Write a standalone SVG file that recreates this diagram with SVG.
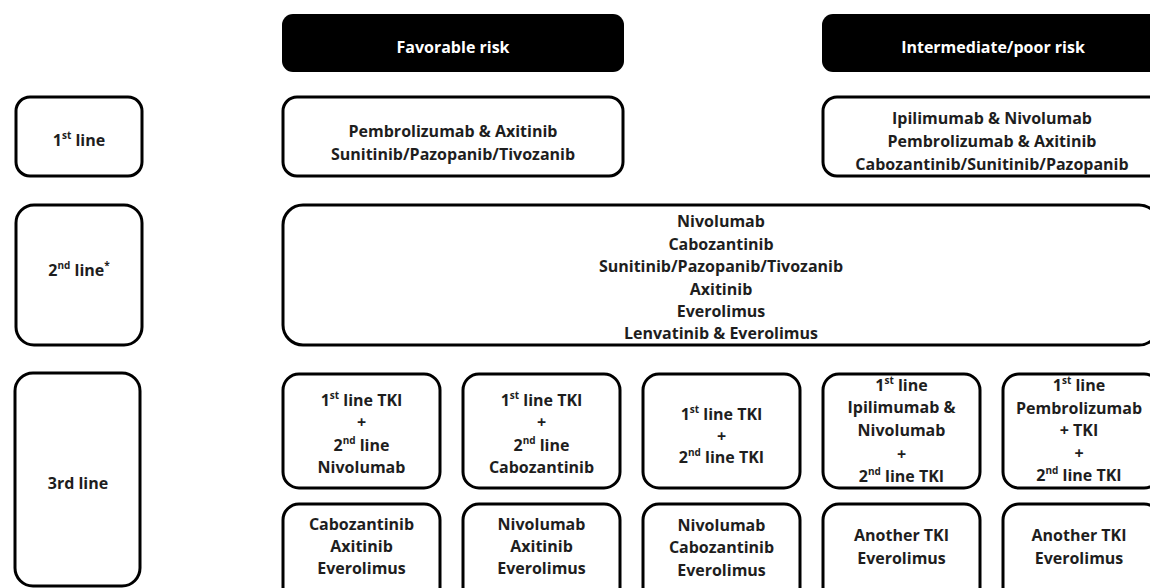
<svg xmlns="http://www.w3.org/2000/svg" width="1150" height="588" viewBox="0 0 1150 588">
<style>
  .box { fill: #ffffff; stroke: #000000; stroke-width: 3; }
  .hdr { fill: #000000; }
  text { font-family: "Open Sans", "Liberation Sans", sans-serif; font-weight: bold; font-size: 16px; fill: #1e1e1e; text-anchor: middle; }
  .ht { fill: #ffffff; font-size: 16px; }
  .sup { font-size: 10px; }
</style>
<rect width="1150" height="588" fill="#ffffff"/>

<g id="hdr-favorable">
  <rect class="hdr" x="282" y="14" width="342" height="58" rx="11"/>
  <text class="ht" x="453" y="53">Favorable  risk</text>
</g>
<g id="hdr-intermediate">
  <rect class="hdr" x="822" y="14" width="342" height="58" rx="11"/>
  <text class="ht" x="993" y="53">Intermediate/poor  risk</text>
</g>

<g id="label-1st">
  <rect class="box" x="16" y="97" width="126" height="79" rx="14"/>
  <text x="79" y="146">1<tspan class="sup" baseline-shift="super">st</tspan> line</text>
</g>
<g id="fav-1st">
  <rect class="box" x="283" y="97" width="340" height="79" rx="14"/>
  <text x="453" y="137">Pembrolizumab &amp; Axitinib</text>
  <text x="453" y="160">Sunitinib/Pazopanib/Tivozanib</text>
</g>
<g id="int-1st">
  <rect class="box" x="823" y="97" width="340" height="79" rx="14"/>
  <text x="992" y="124">Ipilimumab &amp; Nivolumab</text>
  <text x="992" y="147">Pembrolizumab &amp; Axitinib</text>
  <text x="992" y="170">Cabozantinib/Sunitinib/Pazopanib</text>
</g>

<g id="label-2nd">
  <rect class="box" x="16" y="205" width="126" height="140" rx="18"/>
  <text x="79" y="276">2<tspan class="sup" baseline-shift="super">nd</tspan> line<tspan class="sup" baseline-shift="super">*</tspan></text>
</g>
<g id="all-2nd">
  <rect class="box" x="283" y="205" width="876" height="140" rx="20"/>
  <text x="721" y="227">Nivolumab</text>
  <text x="721" y="250">Cabozantinib</text>
  <text x="721" y="272">Sunitinib/Pazopanib/Tivozanib</text>
  <text x="721" y="295">Axitinib</text>
  <text x="721" y="317">Everolimus</text>
  <text x="721" y="339">Lenvatinib &amp; Everolimus</text>
</g>

<g id="label-3rd">
  <rect class="box" x="15" y="373" width="125" height="213" rx="18"/>
  <text x="78" y="489">3rd line</text>
</g>

<g id="r3-c1-top">
  <rect class="box" x="283" y="374" width="157" height="114" rx="16"/>
  <text x="361.5" y="406">1<tspan class="sup" baseline-shift="super">st</tspan> line TKI</text>
  <text x="361.5" y="428">+</text>
  <text x="361.5" y="451">2<tspan class="sup" baseline-shift="super">nd</tspan> line</text>
  <text x="361.5" y="473">Nivolumab</text>
</g>
<g id="r3-c2-top">
  <rect class="box" x="463" y="374" width="157" height="114" rx="16"/>
  <text x="541.5" y="406">1<tspan class="sup" baseline-shift="super">st</tspan> line TKI</text>
  <text x="541.5" y="428">+</text>
  <text x="541.5" y="451">2<tspan class="sup" baseline-shift="super">nd</tspan> line</text>
  <text x="541.5" y="473">Cabozantinib</text>
</g>
<g id="r3-c3-top">
  <rect class="box" x="643" y="374" width="157" height="114" rx="16"/>
  <text x="721.5" y="420">1<tspan class="sup" baseline-shift="super">st</tspan> line TKI</text>
  <text x="721.5" y="442">+</text>
  <text x="721.5" y="463">2<tspan class="sup" baseline-shift="super">nd</tspan> line TKI</text>
</g>
<g id="r3-c4-top">
  <rect class="box" x="823" y="374" width="157" height="114" rx="16"/>
  <text x="901.5" y="391">1<tspan class="sup" baseline-shift="super">st</tspan> line</text>
  <text x="901.5" y="413">Ipilimumab &amp;</text>
  <text x="901.5" y="436">Nivolumab</text>
  <text x="901.5" y="460">+</text>
  <text x="901.5" y="482">2<tspan class="sup" baseline-shift="super">nd</tspan> line TKI</text>
</g>
<g id="r3-c5-top">
  <rect class="box" x="1003" y="374" width="157" height="114" rx="16"/>
  <text x="1079" y="391">1<tspan class="sup" baseline-shift="super">st</tspan> line</text>
  <text x="1079" y="414">Pembrolizumab</text>
  <text x="1079" y="436">+ TKI</text>
  <text x="1079" y="459">+</text>
  <text x="1079" y="481">2<tspan class="sup" baseline-shift="super">nd</tspan> line TKI</text>
</g>

<g id="r3-c1-bottom">
  <rect class="box" x="283" y="504" width="157" height="100" rx="16"/>
  <text x="361.5" y="530">Cabozantinib</text>
  <text x="361.5" y="552">Axitinib</text>
  <text x="361.5" y="574">Everolimus</text>
</g>
<g id="r3-c2-bottom">
  <rect class="box" x="463" y="504" width="157" height="100" rx="16"/>
  <text x="541.5" y="530">Nivolumab</text>
  <text x="541.5" y="552">Axitinib</text>
  <text x="541.5" y="574">Everolimus</text>
</g>
<g id="r3-c3-bottom">
  <rect class="box" x="643" y="504" width="157" height="100" rx="16"/>
  <text x="721.5" y="531">Nivolumab</text>
  <text x="721.5" y="553">Cabozantinib</text>
  <text x="721.5" y="576">Everolimus</text>
</g>
<g id="r3-c4-bottom">
  <rect class="box" x="823" y="504" width="157" height="100" rx="16"/>
  <text x="901.5" y="541">Another TKI</text>
  <text x="901.5" y="564">Everolimus</text>
</g>
<g id="r3-c5-bottom">
  <rect class="box" x="1003" y="504" width="157" height="100" rx="16"/>
  <text x="1079" y="541">Another TKI</text>
  <text x="1079" y="564">Everolimus</text>
</g>

<g id="connectors"></g>
</svg>
